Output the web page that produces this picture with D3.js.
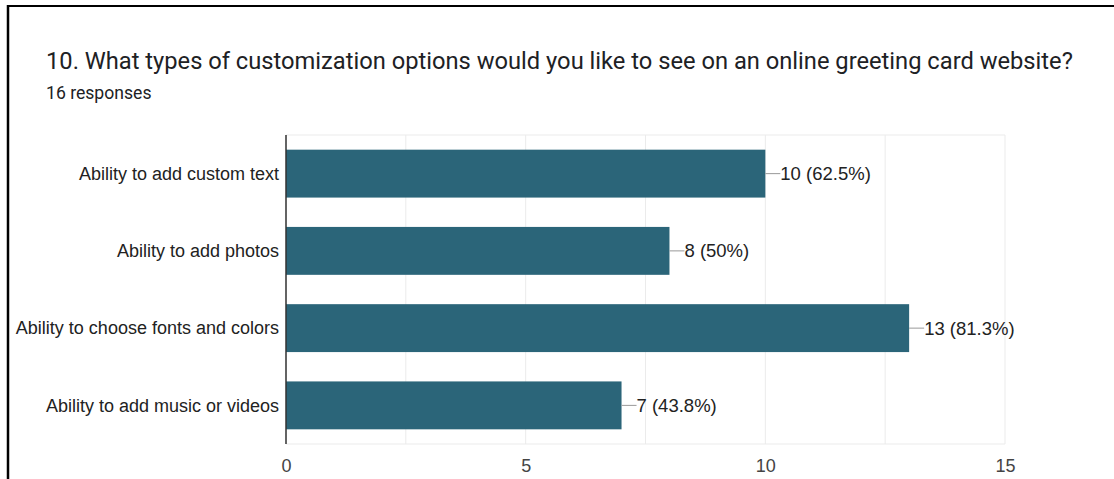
<!DOCTYPE html>
<html>
<head>
<meta charset="utf-8">
<script src="https://cdn.jsdelivr.net/npm/d3@7"></script>
<style>
  html, body { margin: 0; padding: 0; background: #fff; }
  svg { display: block; }
</style>
</head>
<body>
<script>
// Survey question and answer counts
const title = "10. What types of customization options would you like to see on an online greeting card website?";
const responses = "16 responses";
const categories = [
  "Ability to add custom text",
  "Ability to add photos",
  "Ability to choose fonts and colors",
  "Ability to add music or videos"
];
const counts = [10, 8, 13, 7];
const percents = ["62.5%", "50%", "81.3%", "43.8%"];
const tickValues = [0, 5, 10, 15];
const gridValues = [0, 2.5, 5, 7.5, 10, 12.5, 15];

const W = 1114, H = 479;
const svg = d3.select("body").append("svg").attr("width", W).attr("height", H);

// card frame
svg.append("line").attr("x1", 8).attr("x2", W).attr("y1", 6).attr("y2", 6)
  .attr("stroke", "#000").attr("stroke-width", 2);
svg.append("line").attr("x1", 8).attr("x2", 8).attr("y1", 5).attr("y2", H)
  .attr("stroke", "#000").attr("stroke-width", 2.5);

svg.append("text").attr("x", 46).attr("y", 69)
  .attr("font-family", "Roboto, sans-serif").attr("font-size", 23.7)
  .attr("fill", "#202124").text(title);
svg.append("text").attr("x", 46).attr("y", 99)
  .attr("font-family", "Roboto, sans-serif").attr("font-size", 17.6)
  .attr("fill", "#202124").text(responses);

const plot = { left: 286, right: 1005, top: 135, bottom: 444 };
const x = d3.scaleLinear().domain([0, 15]).range([plot.left, plot.right]);
const y = d3.scaleBand().domain(categories).range([plot.top, plot.bottom])
  .paddingInner(0.38).paddingOuter(0.19);

const g = svg.append("g");

// vertical grid lines
g.selectAll("line.grid").data(gridValues).enter().append("line")
  .attr("class", "grid")
  .attr("x1", d => x(d)).attr("x2", d => x(d))
  .attr("y1", plot.top).attr("y2", plot.bottom)
  .attr("stroke", "#ebebeb").attr("stroke-width", 1);
// top and bottom frame of plot area
[plot.top, plot.bottom].forEach(yy => {
  g.append("line").attr("x1", plot.left).attr("x2", plot.right)
    .attr("y1", yy).attr("y2", yy).attr("stroke", "#ebebeb");
});

// bars
g.selectAll("rect.bar").data(categories).enter().append("rect")
  .attr("class", "bar")
  .attr("x", x(0))
  .attr("y", d => y(d))
  .attr("width", (d, i) => x(counts[i]) - x(0))
  .attr("height", y.bandwidth())
  .attr("fill", "#2b6579");

// baseline
g.append("line").attr("x1", x(0)).attr("x2", x(0))
  .attr("y1", plot.top).attr("y2", plot.bottom)
  .attr("stroke", "#333").attr("stroke-width", 1.5);

const labelFont = "Arial, 'Liberation Sans', sans-serif";

// category labels
g.selectAll("text.cat").data(categories).enter().append("text")
  .attr("class", "cat")
  .attr("x", plot.left - 7)
  .attr("y", d => y(d) + y.bandwidth() / 2)
  .attr("dy", "0.35em")
  .attr("text-anchor", "end")
  .attr("font-family", labelFont)
  .attr("font-size", 18)
  .attr("fill", "#222").text(d => d);

// value annotations with leader lines
categories.forEach((c, i) => {
  const xe = x(counts[i]);
  const yc = y(c) + y.bandwidth() / 2;
  g.append("line").attr("x1", xe).attr("x2", xe + 15)
    .attr("y1", yc).attr("y2", yc).attr("stroke", "#999").attr("stroke-width", 1);
  g.append("text").attr("x", xe + 15).attr("y", yc).attr("dy", "0.35em")
    .attr("font-family", labelFont)
    .attr("font-size", 18.5).attr("fill", "#222")
    .text(`${counts[i]} (${percents[i]})`);
});

// x-axis ticks
const axis = d3.axisBottom(x).tickValues(tickValues).tickSize(0).tickPadding(0);
const ax = svg.append("g").attr("transform", `translate(0,${plot.bottom})`).call(axis);
ax.select(".domain").remove();
ax.selectAll("text")
  .attr("y", 28).attr("dy", 0)
  .attr("font-family", labelFont)
  .attr("font-size", 18).attr("fill", "#444");
</script>
</body>
</html>
